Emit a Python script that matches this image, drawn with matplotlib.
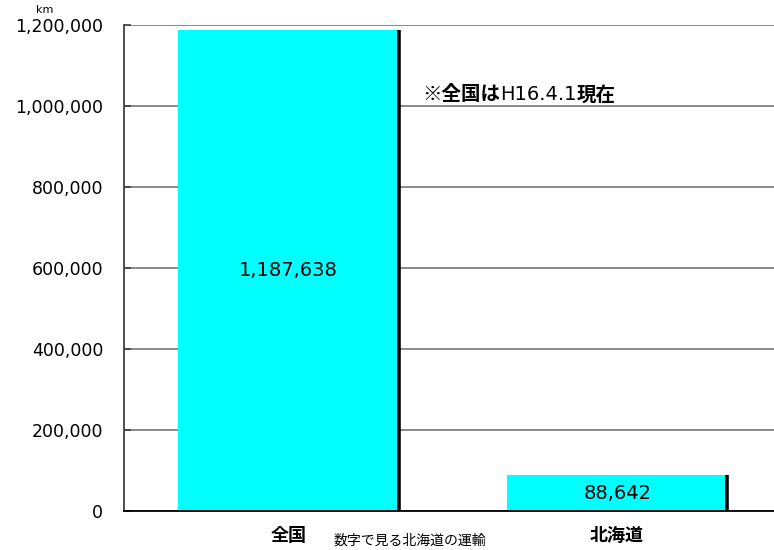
import matplotlib.pyplot as plt

plt.rcParams['font.family'] = ['DejaVu Sans', 'Noto Sans CJK JP']

# 営業キロ（全国と北海道）
regions = ['全国', '北海道']
km = [1187638, 88642]
yticks = [0, 200000, 400000, 600000, 800000, 1000000, 1200000]

fig = plt.figure(figsize=(7.74, 5.5), dpi=100)
ax = fig.add_axes([0.1602, 0.0709, 0.8495, 0.8836])

x = range(len(regions))
w = 0.67
ax.bar(x, km, width=w, color='#00FFFF', zorder=2)
# 右側の黒い縁取り
ax.vlines([i + w / 2 for i in x], 0, km, color='black', linewidth=2.6, zorder=3)

for i, v in zip(x, km):
    ax.text(i, v / 2, f'{v:,}', ha='center', va='center', fontsize=14, zorder=4)

ax.set_xlim(-0.5, 1.5)
ax.set_ylim(0, 1200000)
ax.set_yticks(yticks)
ax.set_yticklabels([f'{t:,}' for t in yticks], fontsize=12.5)
ax.set_xticks(list(x))
ax.set_xticklabels(regions, fontsize=13, fontweight='bold', family=['Noto Sans CJK JP'])
ax.tick_params(axis='y', direction='in', length=5, width=1.2, color='#404040', pad=15)
ax.tick_params(axis='x', length=0, pad=11)

ax.grid(axis='y', color='#808080', linewidth=1.3, zorder=1)
for s in ['top', 'right']:
    ax.spines[s].set_visible(False)
ax.spines['left'].set_color('#404040')
ax.spines['left'].set_linewidth(1.3)
ax.spines['bottom'].set_color('black')
ax.spines['bottom'].set_linewidth(1.3)

fig.text(0.058, 0.982, 'km', fontsize=8, ha='center', va='center')

# 注記（全国の基準日）
t1 = ax.text((422 - 124) / (781.5 - 124), 1014000, '※全国は', fontsize=14, fontweight='bold',
             family=['Noto Sans CJK JP'], va='baseline', transform=ax.get_yaxis_transform())
t2 = ax.annotate('H16.4.1', xy=(1, 0), xycoords=t1, fontsize=14, va='bottom')
ax.annotate('現在', xy=(1, 0), xycoords=t2, fontsize=14, fontweight='bold',
            family=['Noto Sans CJK JP'], va='bottom')

fig.text(0.5297, 0.0164, '数字で見る北海道の運輸', fontsize=10,
         family=['Noto Sans CJK JP'], ha='center', va='center')

fig.savefig('out.png', dpi=100)
